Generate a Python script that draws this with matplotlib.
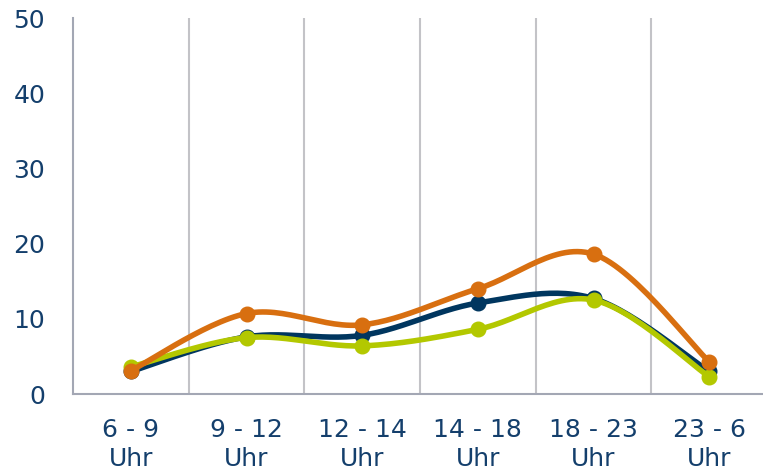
import numpy as np
import matplotlib
matplotlib.use("Agg")
import matplotlib.pyplot as plt

# Data
categories = ["6 - 9\nUhr", "9 - 12\nUhr", "12 - 14\nUhr", "14 - 18\nUhr", "18 - 23\nUhr", "23 - 6\nUhr"]
navy_vals = [3.0, 7.6, 7.8, 12.1, 12.7, 3.0]
orange_vals = [3.1, 10.7, 9.2, 14.0, 18.6, 4.3]
lime_vals = [3.6, 7.5, 6.4, 8.6, 12.5, 2.3]
y_ticks = [0, 10, 20, 30, 40, 50]

text_col = "#143f6c"


def smooth(xs, ys, n=30):
    # Excel-like smoothing: cubic bezier, control points from neighbours
    xs = np.asarray(xs, float)
    ys = np.asarray(ys, float)
    px, py = [], []
    for i in range(len(xs) - 1):
        x0, y0 = xs[max(i - 1, 0)], ys[max(i - 1, 0)]
        x1, y1 = xs[i], ys[i]
        x2, y2 = xs[i + 1], ys[i + 1]
        x3, y3 = xs[min(i + 2, len(xs) - 1)], ys[min(i + 2, len(xs) - 1)]
        c1x, c1y = x1 + (x2 - x0) / 6, y1 + (y2 - y0) / 6
        c2x, c2y = x2 - (x3 - x1) / 6, y2 - (y3 - y1) / 6
        t = np.linspace(0, 1, n)
        a, b, c, d = (1 - t) ** 3, 3 * (1 - t) ** 2 * t, 3 * (1 - t) * t ** 2, t ** 3
        px.extend(a * x1 + b * c1x + c * c2x + d * x2)
        py.extend(a * y1 + b * c1y + c * c2y + d * y2)
    return px, py


fig = plt.figure(figsize=(7.63, 4.74), dpi=100)
ax = fig.add_axes([73 / 763, 80 / 474, 694 / 763, 376 / 474])

x = np.arange(len(categories))
series = [(navy_vals, "#00365f", 2), (lime_vals, "#b3c800", 3), (orange_vals, "#d86f10", 4)]
for vals, col, z in series:
    sx, sy = smooth(x, vals)
    ax.plot(sx, sy, color=col, lw=4, zorder=z, solid_capstyle="round")
    ax.plot(x, vals, "o", color=col, ms=10.5, zorder=z)

ax.set_xlim(-0.5, len(categories) - 0.5)
ax.set_ylim(0, 50)
ax.set_yticks(y_ticks)
ax.set_xticks(x)
ax.set_xticklabels(categories, linespacing=1.3)
for b in np.arange(0.5, len(categories) - 0.5, 1.0):
    ax.axvline(b, color="#c3c3c7", lw=1.5, zorder=1)

for s in ["top", "right"]:
    ax.spines[s].set_visible(False)
for s in ["left", "bottom"]:
    ax.spines[s].set_color("#a3a7b4")
    ax.spines[s].set_linewidth(1.5)
ax.tick_params(axis="y", length=0, pad=20, labelsize=18, labelcolor=text_col)
ax.tick_params(axis="x", length=0, pad=17, labelsize=18, labelcolor=text_col)

fig.savefig("out.png", dpi=100)
